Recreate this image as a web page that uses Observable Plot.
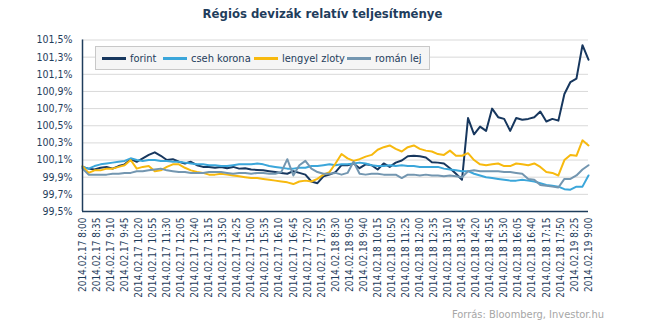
<!DOCTYPE html>
<html><head><meta charset="utf-8">
<script src="https://cdn.jsdelivr.net/npm/d3@7"></script>
<script src="https://cdn.jsdelivr.net/npm/@observablehq/plot@0.6"></script>
<style>
body{margin:0;background:#fff;}
#wrap{position:relative;width:645px;height:325px;font-family:"DejaVu Sans Condensed","DejaVu Sans",sans-serif;overflow:hidden;}
#title{position:absolute;left:0;width:645px;top:6px;text-align:center;font-weight:bold;font-size:13px;color:#1F3D5C;}
#legend{position:absolute;left:95px;top:46px;width:333px;height:22px;border:1px solid #C8C8C8;background:#F5F5F5;font-size:11px;color:#1F3D5C;}
.item{position:absolute;top:0;height:22px;display:flex;align-items:center;white-space:nowrap;}
.sw{display:inline-block;width:24px;height:3px;margin-right:4px;}
#caption{position:absolute;left:452px;top:308px;font-size:11px;color:#A6A6A6;white-space:nowrap;}
#chart{position:absolute;left:0;top:0;}
</style></head>
<body>
<div id="wrap">
  <div id="chart"></div>
  <div id="title">Régiós devizák relatív teljesítménye</div>
  <div id="legend"></div>
  <div id="caption">Forrás: Bloomberg, Investor.hu</div>
</div>
<script>
// categories: 5-minute quotes, index 0 = 2014.02.17 8:00 ... 252 = 2014.02.19 9:00
const tickLabels = ["2014.02.17 8:00","2014.02.17 8:35","2014.02.17 9:10","2014.02.17 9:45","2014.02.17 10:20","2014.02.17 10:55","2014.02.17 11:30","2014.02.17 12:05","2014.02.17 12:40","2014.02.17 13:15","2014.02.17 13:50","2014.02.17 14:25","2014.02.17 15:00","2014.02.17 15:35","2014.02.17 16:10","2014.02.17 16:45","2014.02.17 17:20","2014.02.17 17:55","2014.02.18 8:30","2014.02.18 9:05","2014.02.18 9:40","2014.02.18 10:15","2014.02.18 10:50","2014.02.18 11:25","2014.02.18 12:00","2014.02.18 12:35","2014.02.18 13:10","2014.02.18 13:45","2014.02.18 14:20","2014.02.18 14:55","2014.02.18 15:30","2014.02.18 16:05","2014.02.18 16:40","2014.02.18 17:15","2014.02.18 17:50","2014.02.19 8:25","2014.02.19 9:00"];
const seriesNames = ["forint","cseh korona","lengyel zloty","román lej"];
const seriesColors = ["#17375E","#3BA6DA","#F7B90E","#7396B0"];
// sampled every 3rd 5-minute category (15 minutes)
const sampleIdx = d3.range(0, 253, 3);

const forint = [100.02,100.00,99.99,100.01,100.02,100.00,100.03,100.05,100.11,100.08,
100.12,100.16,100.19,100.15,100.10,100.11,100.08,100.06,100.08,100.04,
100.02,100.02,100.01,100.02,100.005,100.02,100.00,100.005,99.99,99.985,
99.98,99.97,99.96,99.95,99.94,99.97,99.95,99.93,99.85,99.83,
99.91,99.93,99.96,100.04,100.04,100.06,100.005,100.05,100.04,99.99,
100.06,100.02,100.07,100.095,100.145,100.15,100.145,100.13,100.075,100.07,
100.06,100.005,99.94,99.87,100.59,100.40,100.49,100.44,100.70,100.60,
100.58,100.44,100.59,100.57,100.58,100.60,100.665,100.55,100.58,100.56,
100.87,101.01,101.05,101.44,101.27];

const csehKorona = [100.02,100.00,100.03,100.05,100.06,100.07,100.08,100.09,100.12,100.10,
100.09,100.10,100.10,100.09,100.09,100.08,100.08,100.07,100.06,100.05,
100.05,100.04,100.04,100.03,100.03,100.04,100.05,100.05,100.05,100.06,
100.05,100.03,100.02,100.01,100.00,100.00,100.01,100.01,100.03,100.03,
100.04,100.05,100.04,100.05,100.05,100.06,100.07,100.06,100.04,100.03,
100.03,100.04,100.03,100.04,100.03,100.03,100.02,100.02,100.02,100.02,
100.00,99.99,99.98,99.97,99.97,99.94,99.92,99.90,99.89,99.88,
99.87,99.86,99.86,99.87,99.86,99.85,99.83,99.81,99.80,99.79,
99.76,99.755,99.79,99.79,99.92];

const lengyelZloty = [100.03,99.95,99.98,99.98,100.00,100.00,100.02,100.04,100.10,100.00,
100.02,100.03,99.97,99.98,100.02,100.05,100.05,100.01,99.98,99.96,
99.95,99.93,99.93,99.94,99.93,99.92,99.91,99.90,99.89,99.89,
99.88,99.87,99.86,99.85,99.84,99.82,99.85,99.86,99.85,99.88,
99.93,99.96,100.06,100.17,100.12,100.09,100.11,100.14,100.16,100.22,
100.25,100.27,100.23,100.20,100.25,100.27,100.23,100.21,100.20,100.17,
100.16,100.21,100.15,100.15,100.18,100.10,100.05,100.04,100.05,100.06,
100.03,100.03,100.06,100.05,100.04,100.06,100.02,99.96,99.95,99.92,
100.10,100.16,100.15,100.33,100.27];

const romanLej = [100.00,99.93,99.93,99.93,99.93,99.94,99.94,99.95,99.95,99.97,
99.97,99.98,99.99,100.00,99.98,99.97,99.96,99.96,99.95,99.95,
99.95,99.96,99.96,99.96,99.95,99.94,99.95,99.95,99.94,99.95,
99.95,99.94,99.94,99.96,100.11,99.92,100.04,100.09,100.00,99.96,
99.94,99.94,99.95,99.93,99.95,100.08,99.94,99.93,99.94,99.94,
99.93,99.93,99.93,99.89,99.93,99.93,99.92,99.93,99.92,99.92,
99.91,99.92,99.91,99.90,99.97,99.98,99.97,99.97,99.97,99.97,
99.96,99.96,99.95,99.94,99.88,99.87,99.81,99.80,99.79,99.78,
99.88,99.88,99.92,99.99,100.04];

const yTicks = [99.5,99.7,99.9,100.1,100.3,100.5,100.7,100.9,101.1,101.3,101.5];

const allSeries = [forint, csehKorona, lengyelZloty, romanLej];
const rows = [];
allSeries.forEach((vals, k) => vals.forEach((v, j) => rows.push({series: seriesNames[k], i: sampleIdx[j], v})));
const xTicks = tickLabels.map((_, k) => k * 7);

const font = '"DejaVu Sans Condensed","DejaVu Sans",sans-serif';
const chart = Plot.plot({
  width: 645, height: 325,
  marginLeft: 82, marginRight: 57, marginTop: 39.5, marginBottom: 114,
  style: {fontFamily: font, fontSize: "10px", color: "#1F3D5C", background: "transparent", overflow: "visible"},
  x: {domain: [0, 252]},
  y: {domain: [99.5, 101.5]},
  color: {domain: seriesNames, range: seriesColors},
  marks: [
    Plot.ruleY(yTicks, {stroke: "#D9D9D9", strokeWidth: 1}),
    Plot.axisY({ticks: yTicks, tickSize: 0, tickPadding: 10, label: null, fontSize: 10.5,
      tickFormat: d => d.toFixed(1).replace(".", ",") + "%"}),
    Plot.axisX({ticks: xTicks, tickSize: 0, tickPadding: 6, tickRotate: -90, label: null, fontSize: 10,
      tickFormat: d => tickLabels[Math.round(d / 7)]}),
    Plot.lineY(rows, {x: "i", y: "v", z: "series", stroke: "series", strokeWidth: 2, strokeLinejoin: "round"}),
    Plot.ruleX([0], {stroke: "#1F3D5C", strokeWidth: 1.5}),
    Plot.ruleY([99.5], {stroke: "#1F3D5C", strokeWidth: 1.5})
  ]
});
document.getElementById("chart").appendChild(chart);

const legendPos = [6, 67, 158, 251];
const legend = document.getElementById("legend");
seriesNames.forEach((name, k) => {
  const it = document.createElement("div");
  it.className = "item";
  it.style.left = legendPos[k] + "px";
  const sw = document.createElement("span");
  sw.className = "sw";
  sw.style.background = seriesColors[k];
  it.appendChild(sw);
  it.appendChild(document.createTextNode(name));
  legend.appendChild(it);
});
</script>
</body></html>
